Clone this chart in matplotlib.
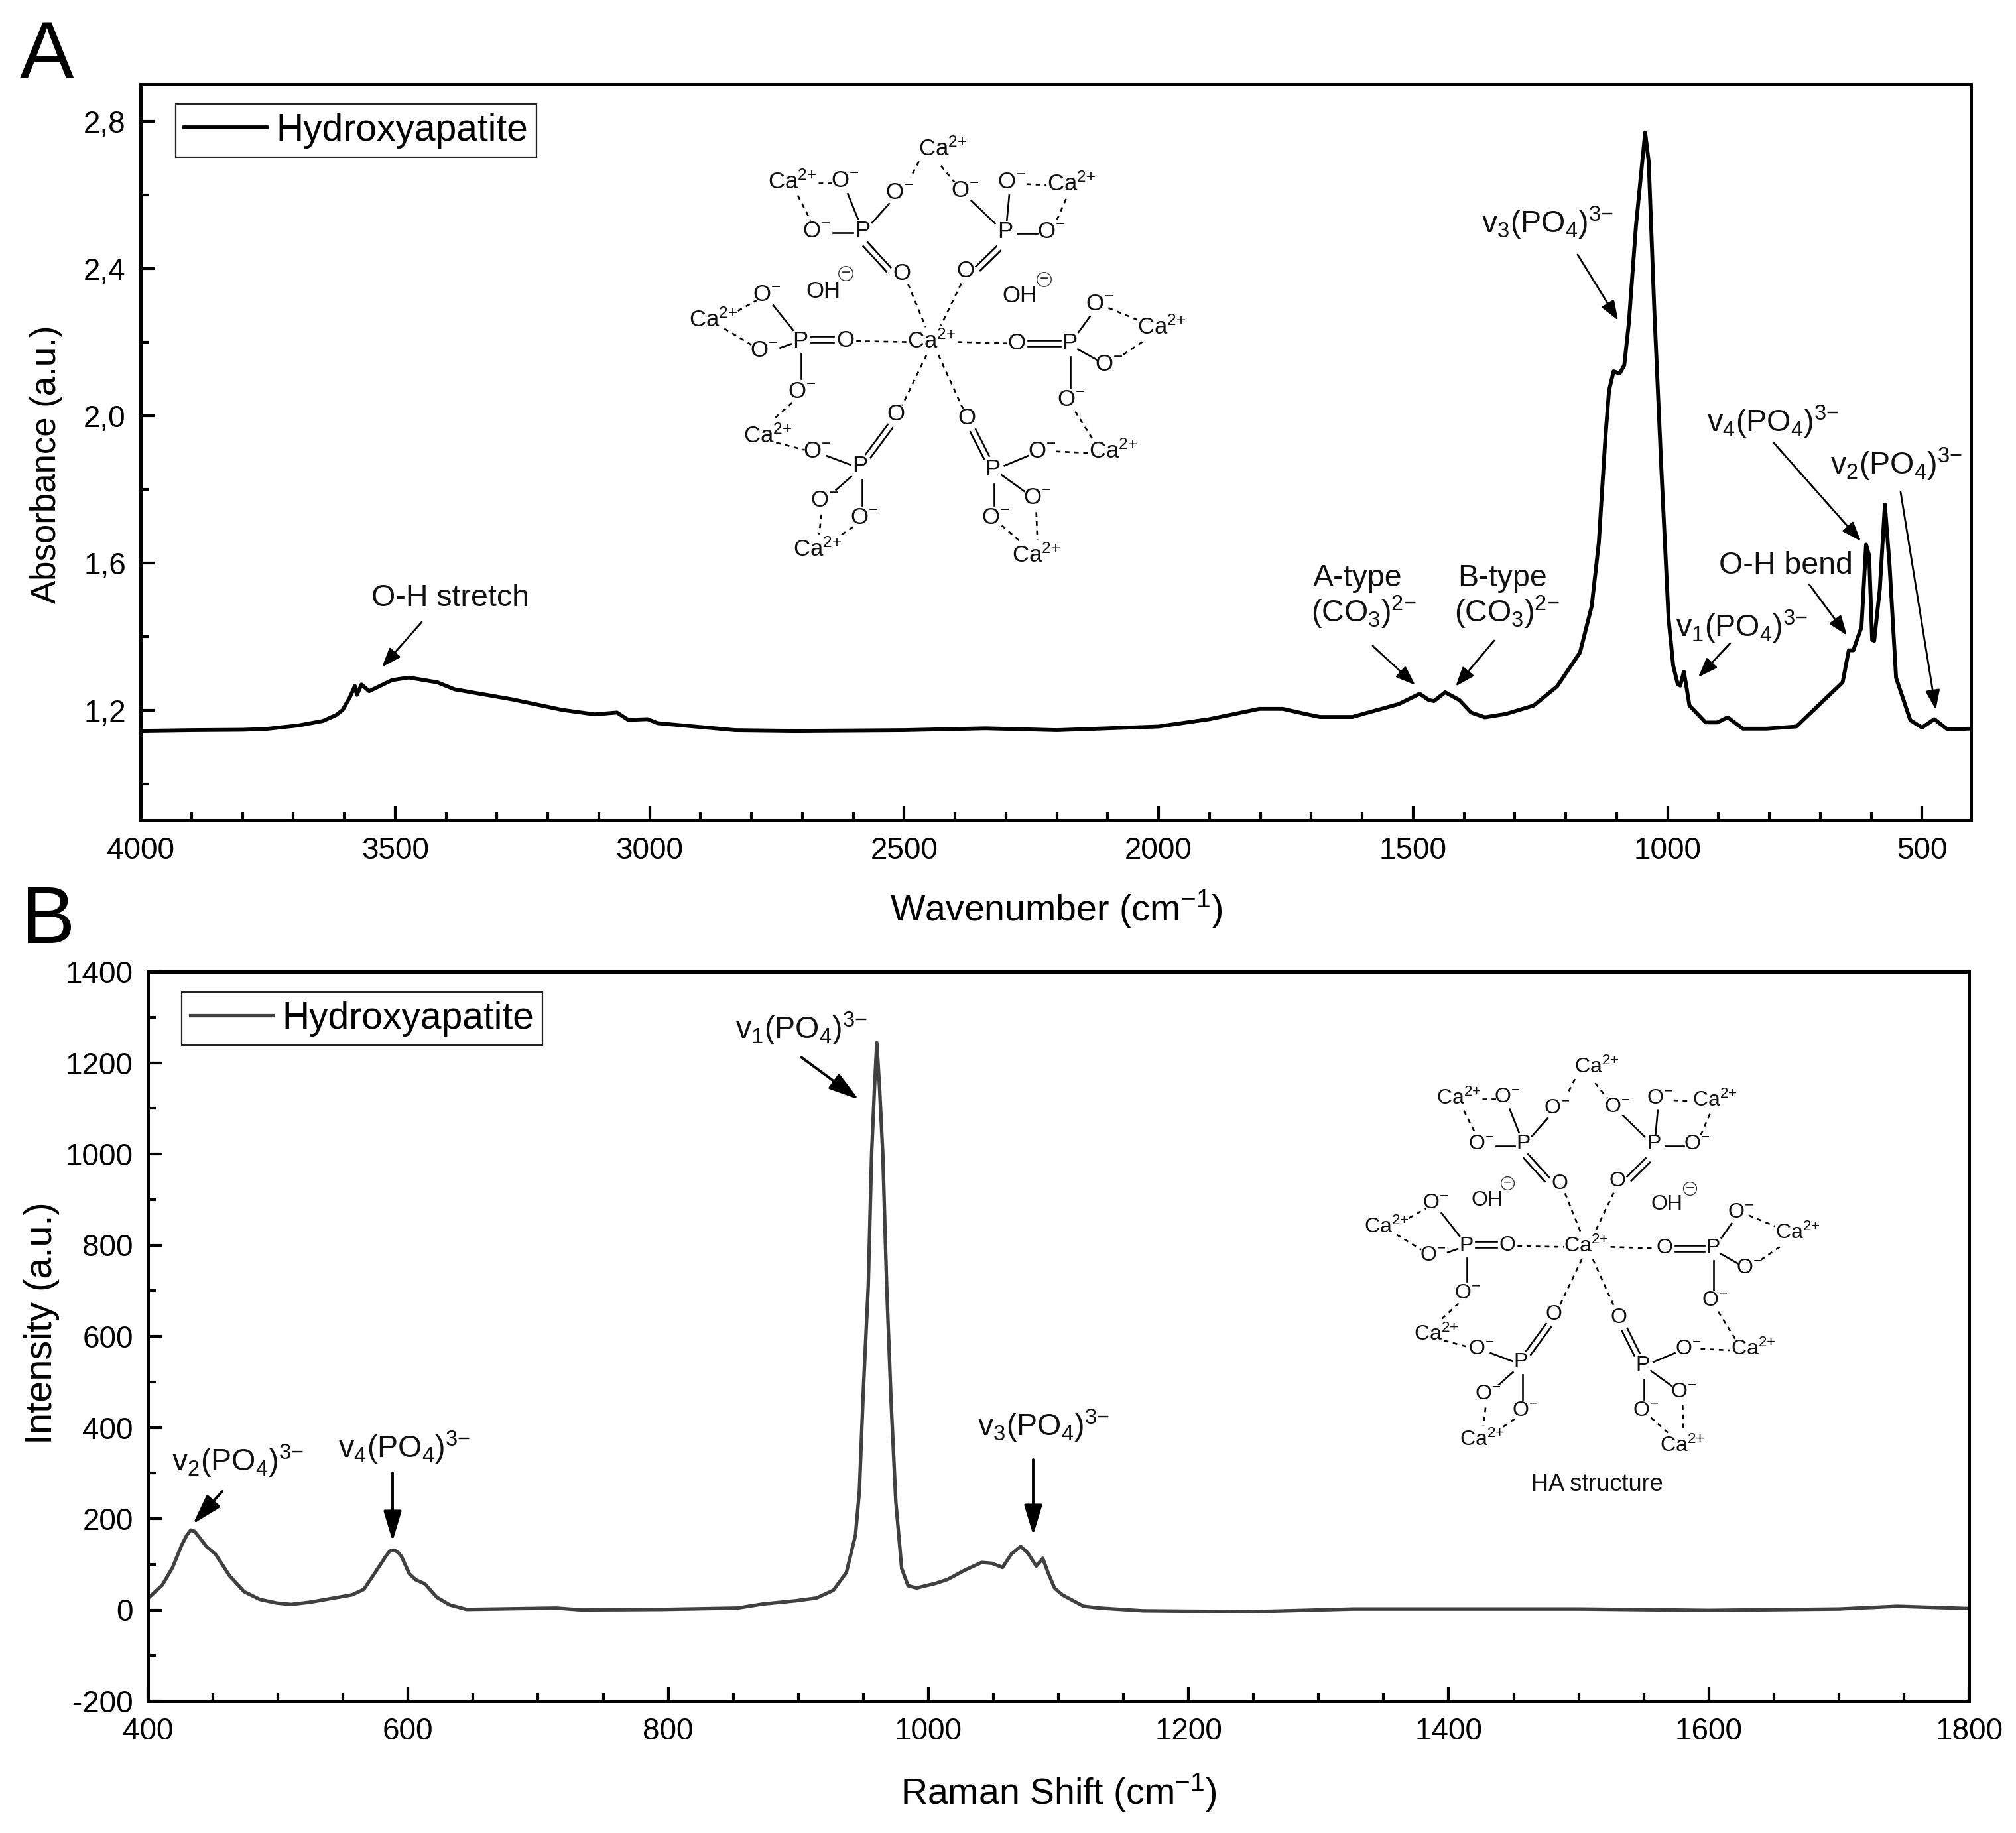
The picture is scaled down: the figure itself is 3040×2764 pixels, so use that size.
import matplotlib
matplotlib.use('Agg')
import matplotlib.pyplot as plt
from matplotlib.ticker import MultipleLocator, FuncFormatter

plt.rcParams['font.family'] = ['Liberation Sans', 'DejaVu Sans']
plt.rcParams['mathtext.default'] = 'regular'
plt.rcParams['axes.unicode_minus'] = False

# FTIR spectrum
ftir_wave = [4000, 3900, 3800, 3755, 3689, 3642, 3616, 3603, 3589, 3579, 3575, 3566, 3551, 3506, 3473,
             3417, 3383, 3271, 3171, 3108, 3064, 3042, 3004, 2984, 2832, 2713, 2500, 2340, 2200, 2000,
             1900, 1830, 1802, 1756, 1711, 1683, 1619, 1583, 1528, 1487, 1469, 1459, 1437, 1409, 1386,
             1359, 1318, 1263, 1217, 1172, 1149, 1135, 1122, 1115, 1106, 1094, 1085, 1076, 1062, 1044,
             1037, 1026, 1012, 998, 989, 980, 975, 968, 963, 957, 925, 902, 882, 852, 806, 747, 656,
             644, 635, 619, 610, 604, 598, 594, 583, 573, 564, 551, 523, 500, 476, 450, 409]
ftir_abs = [1.143, 1.145, 1.146, 1.148, 1.158, 1.170, 1.186, 1.200, 1.234, 1.265, 1.241, 1.269, 1.251,
            1.281, 1.288, 1.275, 1.256, 1.229, 1.200, 1.188, 1.193, 1.173, 1.175, 1.164, 1.145, 1.143,
            1.145, 1.150, 1.145, 1.155, 1.175, 1.195, 1.203, 1.203, 1.189, 1.181, 1.181, 1.195, 1.216,
            1.244, 1.227, 1.224, 1.248, 1.227, 1.193, 1.180, 1.189, 1.212, 1.264, 1.356, 1.482, 1.655,
            1.942, 2.068, 2.120, 2.114, 2.137, 2.252, 2.516, 2.769, 2.689, 2.286, 1.850, 1.448, 1.321,
            1.270, 1.266, 1.304, 1.264, 1.212, 1.166, 1.166, 1.180, 1.149, 1.149, 1.155, 1.275, 1.362,
            1.362, 1.425, 1.649, 1.620, 1.390, 1.388, 1.528, 1.758, 1.597, 1.287, 1.172, 1.152, 1.175,
            1.147, 1.149]

# Raman spectrum
raman_shift = [400, 411, 419, 426, 430, 433, 436, 439, 445, 452, 463, 474, 486, 499, 510, 525, 541, 557, 566,
               575, 583, 586, 589, 592, 595, 601, 606, 613, 622, 632, 645, 714, 733, 795, 853, 873, 898, 914,
               927, 937, 944, 947, 950, 953.8, 956.4, 958.6, 960.4, 962.5, 965, 968, 971.4, 975, 979.5, 984.4,
               991, 1005.5, 1015, 1028, 1041, 1049, 1057, 1064, 1071, 1076.4, 1083, 1088, 1092, 1097, 1103,
               1119.3, 1132, 1165, 1249, 1327, 1408, 1500, 1600, 1700, 1745, 1800]
raman_int = [25, 54, 93, 142, 164, 175, 172, 161, 139, 122, 74, 40, 23, 15, 12, 17, 25, 33, 45, 83, 118, 129,
             131, 127, 117, 79, 66, 57, 28, 11, 1, 4, 0, 1, 4, 13, 20, 26, 43, 82, 164, 261, 479, 709, 1000,
             1145, 1244, 1145, 1000, 709, 455, 237, 91, 53, 48, 58, 67, 87, 104, 102, 93, 123, 139, 125, 96,
             113, 82, 48, 33, 8, 4, -2, -4, 2, 2, 2, -1, 2, 8, 3]

# labels with arrows, pixel positions on the page
V1 = 'v$_{1}$(PO$_{4}$)$^{3{−}}$'
V2 = 'v$_{2}$(PO$_{4}$)$^{3{−}}$'
V3 = 'v$_{3}$(PO$_{4}$)$^{3{−}}$'
V4 = 'v$_{4}$(PO$_{4}$)$^{3{−}}$'
CO3 = '(CO$_{3}$)$^{2{−}}$'
annot_a = [('O-H stretch', 679, 902), ('A-type', 2047, 872), (CO3, 2056, 923),
           ('B-type', 2265, 872), (CO3, 2272, 923), (V3, 2333, 336),
           (V4, 2673, 636), (V2, 2859, 700),
           ('O-H bend', 2693, 853), (V1, 2626, 945)]
arrows_a = [(636, 938, 576, 1006), (2070, 974, 2134, 1033), (2253, 966, 2195, 1035), (2379, 384, 2440, 483),
            (2674, 667, 2806, 816), (2866, 742, 2919, 1070), (2728, 881, 2785, 958), (2609, 970, 2561, 1021)]
annot_b = [(V2, 358, 2203), (V4, 609, 2183), (V1, 1208, 1551), (V3, 1573, 2150)]
arrows_b = [(335, 2249, 291, 2298), (592, 2221, 592, 2324), (1208, 1594, 1295, 1658), (1558, 2201, 1558, 2315)]

# structure drawing, coordinates on a 1568 wide sheet
CA = 'Ca$^{2{+}}$'
OM = 'O$^{{-}}$'
atoms = [(CA, 820, 92), (CA, 375, 205), (OM, 532, 200), (OM, 692, 240), (OM, 887, 235), (OM, 1024, 205),
         (CA, 1200, 212), (OM, 447, 370), ('P', 583, 370), ('P', 1005, 372), (OM, 1142, 372), ('O', 700, 515),
         ('O', 887, 505), ('OH', 468, 575), ('OH', 1047, 590), (OM, 300, 585), (OM, 1284, 618), (CA, 142, 672),
         (CA, 1467, 695), (OM, 292, 775), ('P', 400, 743), ('O', 532, 740), (CA, 787, 742), ('O', 1038, 750),
         ('P', 1195, 750), (OM, 1312, 822), (OM, 404, 912), (OM, 1200, 940), ('O', 682, 990), ('O', 892, 1003),
         (CA, 303, 1062), (OM, 449, 1115), (OM, 1114, 1115), (CA, 1325, 1115), ('P', 575, 1163), ('P', 968, 1175),
         (OM, 470, 1280), (OM, 1100, 1272), (OM, 589, 1338), (OM, 977, 1338), (CA, 450, 1445), (CA, 1097, 1467)]
charges = [(533, 512), (1120, 533)]
solid_bonds = [(540, 245, 570, 330), (612, 342, 662, 278), (495, 377, 555, 377), (905, 268, 975, 345),
               (1017, 250, 1010, 335), (1040, 378, 1100, 378), (320, 622, 378, 705), (340, 765, 372, 752),
               (402, 785, 402, 870), (1255, 660, 1222, 712), (1220, 770, 1275, 805), (1197, 795, 1197, 900),
               (478, 1130, 548, 1160), (550, 1200, 505, 1245), (582, 1210, 582, 1298), (1072, 1130, 1003, 1163),
               (995, 1195, 1062, 1250), (972, 1225, 972, 1298)]
double_bonds = [(592, 415, 660, 500), (985, 430, 925, 497), (430, 735, 498, 735), (1072, 750, 1168, 750),
                (665, 1030, 600, 1130), (910, 1045, 950, 1135)]
dashed_bonds = [(750, 135, 725, 190), (815, 150, 855, 205), (452, 208, 495, 208), (392, 250, 430, 335),
                (1068, 212, 1125, 215), (1185, 262, 1155, 340), (215, 640, 270, 605), (175, 700, 255, 755),
                (1310, 630, 1395, 670), (1410, 745, 1345, 795), (565, 742, 715, 745), (865, 745, 1010, 750),
                (718, 550, 770, 695), (875, 548, 815, 690), (772, 790, 700, 960), (808, 790, 880, 970),
                (375, 950, 322, 1005), (1212, 980, 1270, 1085), (328, 1085, 412, 1110), (1155, 1115, 1250, 1120),
                (462, 1328, 455, 1395), (555, 1370, 510, 1405), (995, 1365, 1055, 1425), (1097, 1320, 1100, 1415)]

LINE_A = '#000000'
LINE_B = '#404040'
W, H = 3040, 2764


def draw_structure(ov, ox, oy, sx, sy, fs):
    def px(x, y):
        return ox + x * sx, oy + y * sy

    for x1, y1, x2, y2 in solid_bonds:
        a, b = px(x1, y1), px(x2, y2)
        ov.plot([a[0], b[0]], [a[1], b[1]], color='k', lw=1.9)
    for x1, y1, x2, y2 in double_bonds:
        a, b = px(x1, y1), px(x2, y2)
        dx, dy = b[0] - a[0], b[1] - a[1]
        n = (dx ** 2 + dy ** 2) ** 0.5
        nx, ny = -dy / n * 4.5, dx / n * 4.5
        for s in (-1, 1):
            ov.plot([a[0] + s * nx, b[0] + s * nx], [a[1] + s * ny, b[1] + s * ny], color='k', lw=1.9)
    for x1, y1, x2, y2 in dashed_bonds:
        a, b = px(x1, y1), px(x2, y2)
        ov.plot([a[0], b[0]], [a[1], b[1]], color='k', lw=1.9, dashes=(2.6, 2.6))
    for label, x, y in atoms:
        a = px(x, y)
        ov.text(a[0], a[1], label, fontsize=fs, ha='center', va='center', color='#111111')
    for x, y in charges:
        a = px(x, y)
        ov.plot(a[0], a[1], 'o', ms=fs * 0.62, mfc='none', mec='#333333', mew=1.0)
        ov.text(a[0], a[1], '−', fontsize=fs * 0.7, ha='center', va='center', color='#333333')


def setup_axes(ax, xlab, ylab, xlab_fs, ylab_fs, xlab_pos, ylab_pos):
    for s in ('top', 'right', 'left', 'bottom'):
        ax.spines[s].set_linewidth(3.6)
    ax.tick_params(axis='both', which='major', direction='in', length=15, width=3, labelsize=33)
    ax.tick_params(axis='both', which='minor', direction='in', length=8.5, width=3)
    ax.tick_params(axis='x', which='major', pad=17)
    ax.tick_params(axis='y', which='major', pad=16)
    ax.set_xlabel(xlab, fontsize=xlab_fs, va='center')
    ax.set_ylabel(ylab, fontsize=ylab_fs, va='center')
    ax.xaxis.set_label_coords(*xlab_pos)
    ax.yaxis.set_label_coords(*ylab_pos)


def add_legend(ax, line, anchor):
    leg = ax.legend([line], ['Hydroxyapatite'], loc='upper left', bbox_to_anchor=anchor, borderaxespad=0,
                    fontsize=41, frameon=True, fancybox=False, framealpha=1, edgecolor='#222222',
                    handlelength=2.17, handletextpad=0.25, borderpad=0.23)
    leg.get_frame().set_linewidth(1.6)


def axes_rect(left, top, right, bottom):
    return [left / W, 1 - bottom / H, (right - left) / W, (bottom - top) / H]


if __name__ == '__main__':
    fig = plt.figure(figsize=(W / 100, H / 100), dpi=100)

    # A - FTIR
    ax1 = fig.add_axes(axes_rect(212, 127, 2972, 1237))
    line1, = ax1.plot(ftir_wave, ftir_abs, color=LINE_A, lw=4.2, solid_joinstyle='round')
    ax1.set_xlim(4000, 404)
    ax1.set_ylim(0.9, 2.9)
    ax1.xaxis.set_major_locator(MultipleLocator(500))
    ax1.xaxis.set_minor_locator(MultipleLocator(100))
    ax1.yaxis.set_major_locator(MultipleLocator(0.4))
    ax1.yaxis.set_minor_locator(MultipleLocator(0.2))
    ax1.yaxis.set_major_formatter(FuncFormatter(lambda v, p: ('%.1f' % v).replace('.', ',')))
    setup_axes(ax1, 'Wavenumber (cm$^{-1}$)', 'Absorbance (a.u.)', 40, 38,
               ((1593 - 212) / 2760, -(1371 - 1237) / 1110), ((70 - 212) / 2760, (1237 - 700) / 1110))
    add_legend(ax1, line1, ((265 - 212) / 2760, 1 - (157 - 127) / 1110))

    # B - Raman
    ax2 = fig.add_axes(axes_rect(223, 1465, 2969, 2565))
    line2, = ax2.plot(raman_shift, raman_int, color=LINE_B, lw=3.8, solid_joinstyle='round')
    ax2.set_xlim(400, 1800)
    ax2.set_ylim(-200, 1400)
    ax2.xaxis.set_major_locator(MultipleLocator(200))
    ax2.xaxis.set_minor_locator(MultipleLocator(50))
    ax2.yaxis.set_major_locator(MultipleLocator(200))
    ax2.yaxis.set_minor_locator(MultipleLocator(100))
    setup_axes(ax2, 'Raman Shift (cm$^{-1}$)', 'Intensity (a.u.)', 40, 41.5,
               ((1596 - 223) / 2746, -(2703 - 2565) / 1100), ((63 - 223) / 2746, (2565 - 1995) / 1100))
    add_legend(ax2, line2, ((274 - 223) / 2746, 1 - (1496 - 1465) / 1100))

    # page overlay for labels, arrows and the structures
    ov = fig.add_axes([0, 0, 1, 1])
    ov.set_xlim(0, W)
    ov.set_ylim(H, 0)
    ov.axis('off')
    ov.patch.set_alpha(0)

    for label, x, y in annot_a + annot_b:
        ov.text(x, y, label, fontsize=33.5, ha='center', va='center', color='#111111')
    for x1, y1, x2, y2 in arrows_a:
        ov.annotate('', xy=(x2, y2), xytext=(x1, y1),
                    arrowprops=dict(arrowstyle='-|>,head_length=0.75,head_width=0.28', color='k', lw=2,
                                    mutation_scale=24, shrinkA=0, shrinkB=0))
    for x1, y1, x2, y2 in arrows_b:
        ov.annotate('', xy=(x2, y2), xytext=(x1, y1),
                    arrowprops=dict(arrowstyle='-|>,head_length=1.0,head_width=0.3', color='k', lw=2.8,
                                    mutation_scale=28, shrinkA=0, shrinkB=0))

    draw_structure(ov, 1003, 183, 1 / 1.96, 1 / 2.24, 25)
    draw_structure(ov, 2000 + 24, 1560 + 11, 0.917 / 1.96, 0.93 / 2.24, 23)
    ov.text(2408, 2238, 'HA structure', fontsize=26, ha='center', va='center', color='#111111')

    ov.text(30, 118, 'A', fontsize=88, ha='left', va='baseline')
    ov.text(32, 1422, 'B', fontsize=88, ha='left', va='baseline')

    fig.savefig('out.png', dpi=100)
